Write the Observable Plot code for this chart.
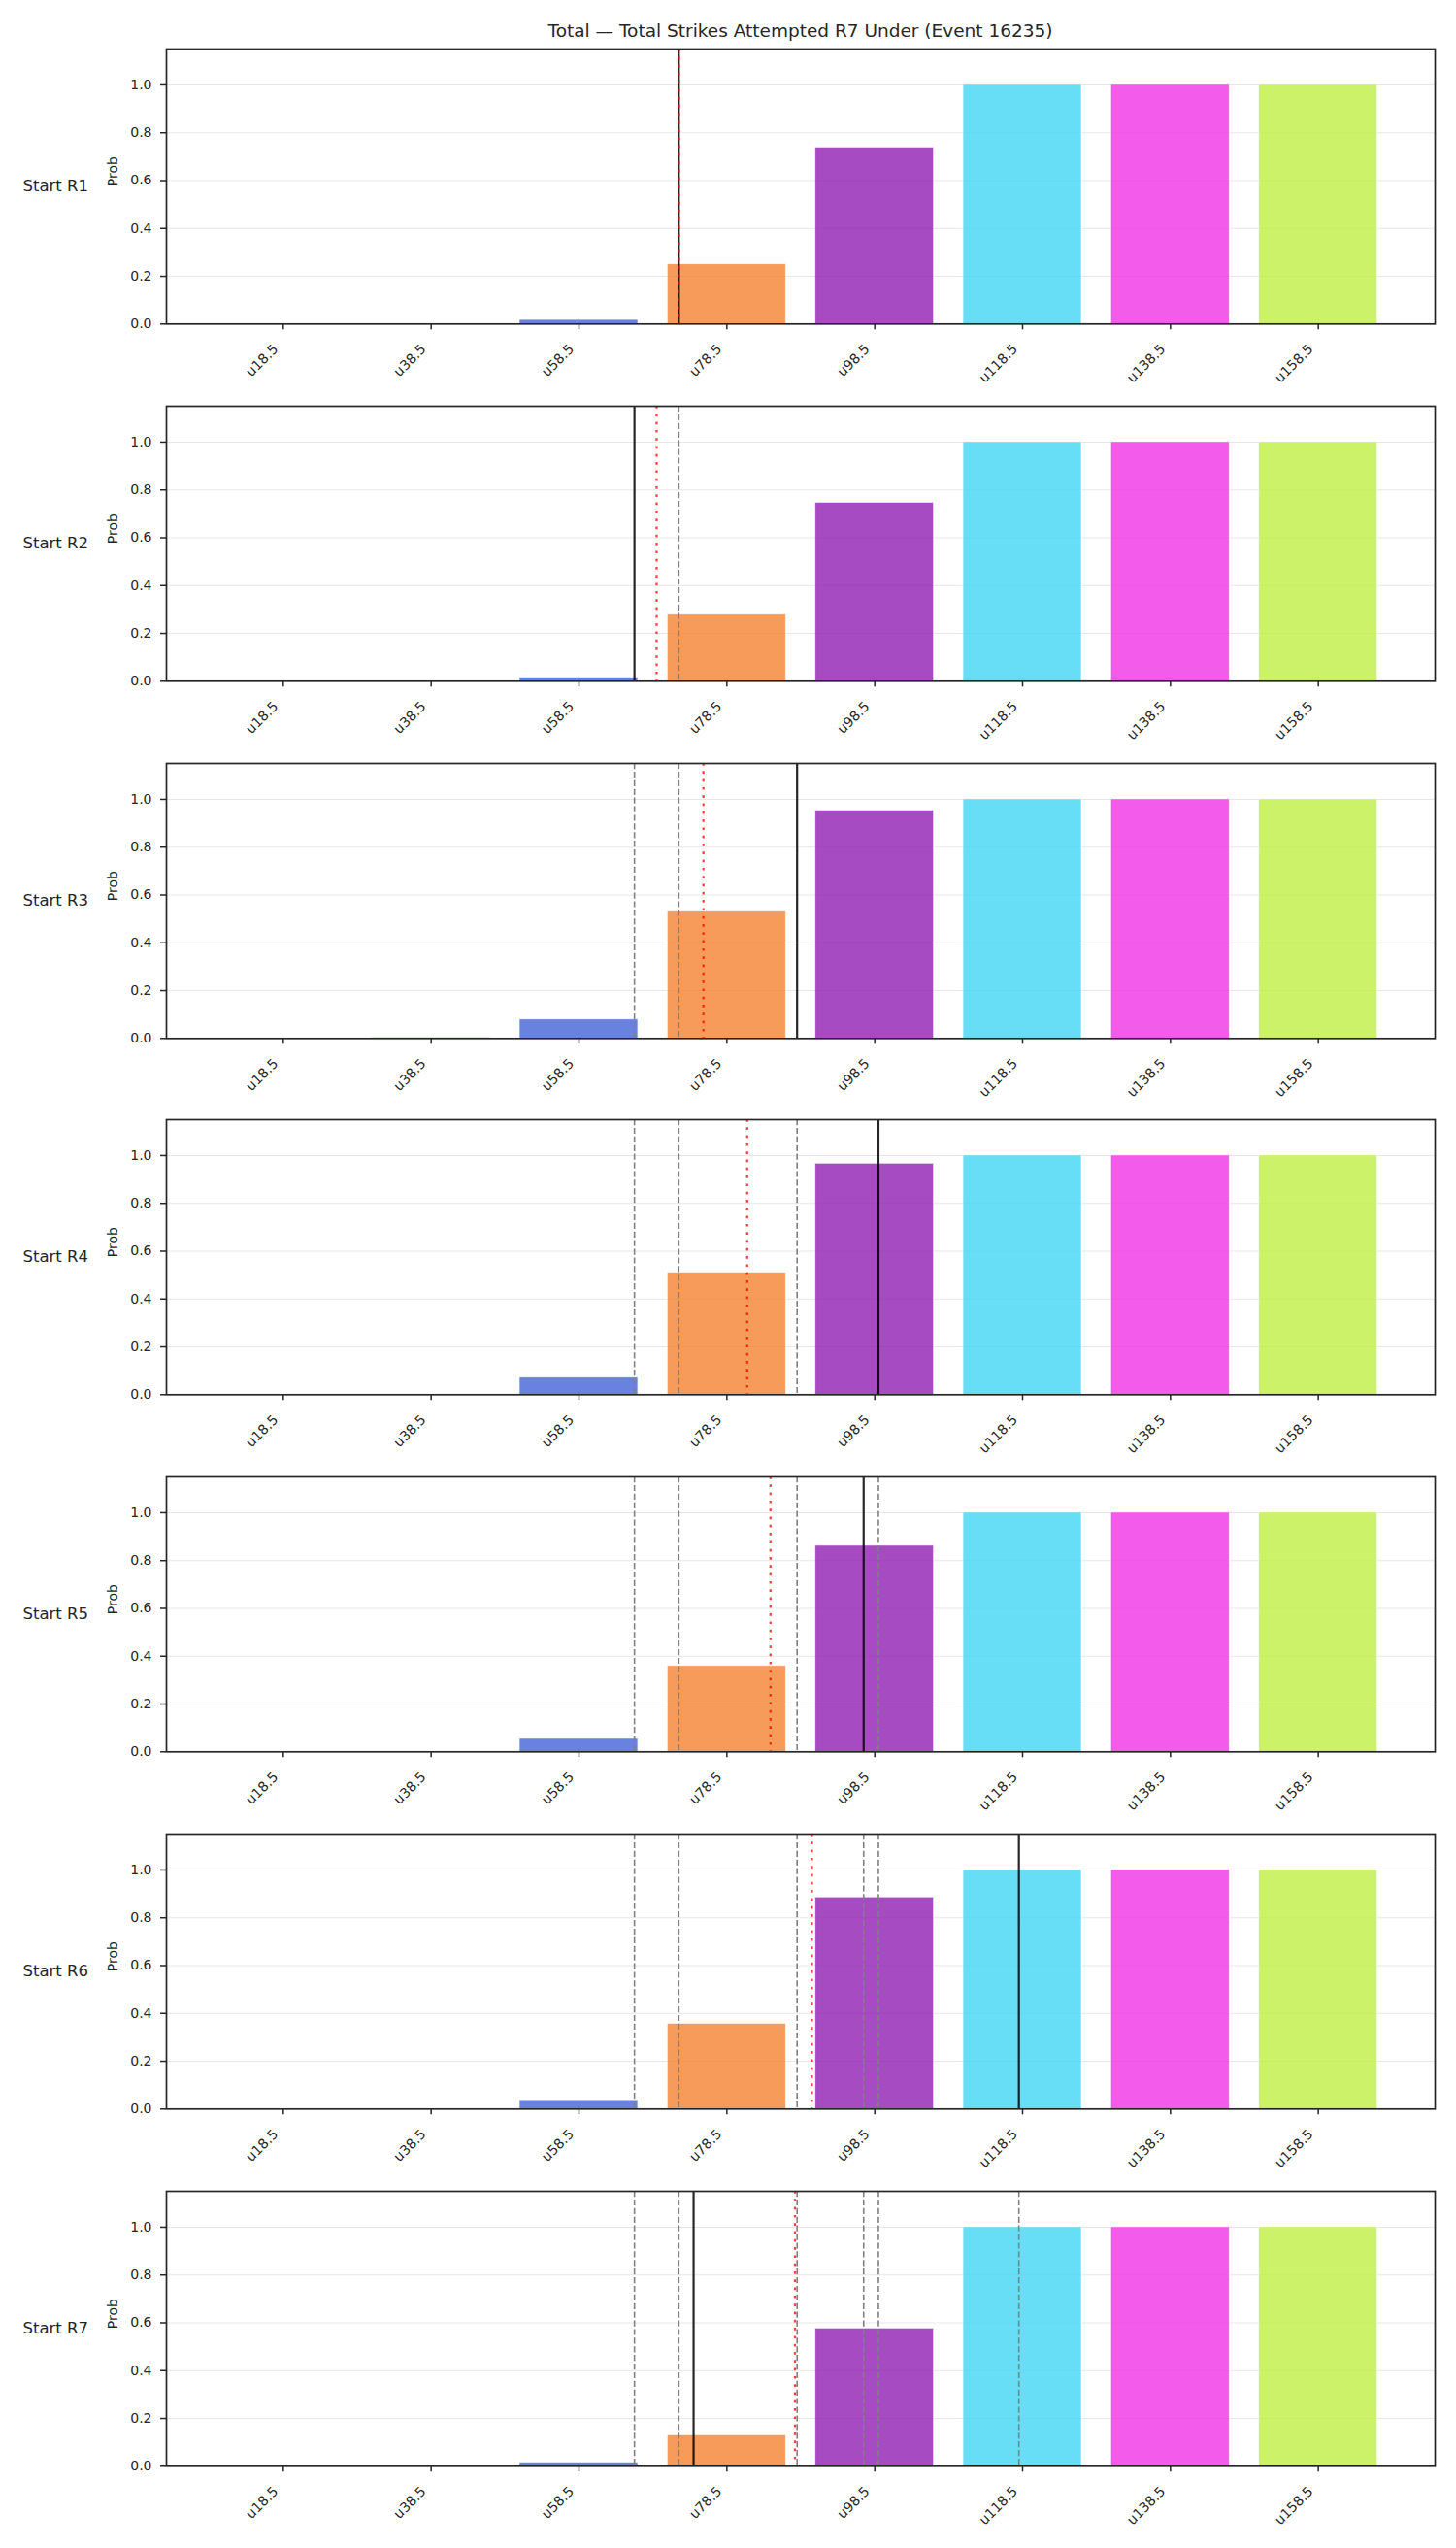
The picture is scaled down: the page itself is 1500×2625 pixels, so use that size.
<!DOCTYPE html>
<html>
<head>
<meta charset="utf-8">
<script src="https://cdn.jsdelivr.net/npm/d3@7"></script>
<script src="https://cdn.jsdelivr.net/npm/@observablehq/plot@0.6"></script>
<style>
  html, body { margin: 0; padding: 0; background: #ffffff; }
  #page { position: relative; width: 1500px; height: 2625px; background: #ffffff; font-family: "DejaVu Sans", sans-serif; }
  #title { position: absolute; left: 171px; width: 1307px; top: 23px; text-align: center;
           font-size: 18.5px; line-height: 18.5px; color: #262626; z-index: 2; }
  .panel { position: absolute; left: 0; }
  .panel svg { display: block; }
</style>
</head>
<body>
<div id="page">
  <div id="title">Total — Total Strikes Attempted R7 Under (Event 16235)</div>
</div>
<script>
// Strike lines of the "under" buckets and their tick labels
const strikeLines = [18.5, 38.5, 58.5, 78.5, 98.5, 118.5, 138.5, 158.5];
const bucketLabels = ["u18.5", "u38.5", "u58.5", "u78.5", "u98.5", "u118.5", "u138.5", "u158.5"];
const barColors = ["#e6194b", "#3cb44b", "#4363d8", "#f58231", "#911eb4", "#42d4f4", "#f032e6", "#bfef45"];

// Row labels, one panel per starting round
const roundNames = ["Start R1", "Start R2", "Start R3", "Start R4", "Start R5", "Start R6", "Start R7"];

// Probability of each bucket, per starting round
const probR1 = [0, 0, 0.017, 0.250, 0.738, 1, 1, 1];
const probR2 = [0, 0, 0.015, 0.278, 0.746, 1, 1, 1];
const probR3 = [0, 0.003, 0.079, 0.530, 0.953, 1, 1, 1];
const probR4 = [0, 0, 0.071, 0.510, 0.966, 1, 1, 1];
const probR5 = [0, 0, 0.054, 0.359, 0.862, 1, 1, 1];
const probR6 = [0, 0, 0.037, 0.356, 0.885, 1, 1, 1];
const probR7 = [0, 0, 0.015, 0.129, 0.576, 1, 1, 1];
const roundProbs = [probR1, probR2, probR3, probR4, probR5, probR6, probR7];

// Projected total at each round (solid) and the running average up to it (dotted)
const roundEstimate = [72, 66, 88, 99, 97, 118, 74];
const runningMean = [72, 69, 75.33, 81.25, 84.4, 90, 87.71];

const yTicks = [0, 0.2, 0.4, 0.6, 0.8, 1.0];

const ink = "#262626";
const barHalfWidth = 8;          // bars are 0.8 of the 20-strike step
const panelTop = 50, panelStep = 367.8;
const marginTop = 8, plotHeight = 283.3, svgHeight = 368;

function panel(k) {
  const bars = bucketLabels.map((label, i) => ({
    label, strike: strikeLines[i], p: roundProbs[k][i], color: barColors[i]
  }));
  const earlier = roundEstimate.slice(0, k);
  return Plot.plot({
    width: 1500,
    height: svgHeight,
    marginLeft: 171,
    marginRight: 22,
    marginTop,
    marginBottom: svgHeight - marginTop - plotHeight,
    style: {fontFamily: "DejaVu Sans", background: "#ffffff", color: ink, overflow: "visible"},
    x: {type: "linear", domain: [2.7, 174.3]},
    y: {domain: [0, 1.15]},
    color: {type: "identity"},
    marks: [
      Plot.gridY(yTicks.slice(1), {stroke: "#b0b0b0", strokeOpacity: 0.3, strokeWidth: 1.1}),
      Plot.rectY(bars, {
        x1: d => d.strike - barHalfWidth,
        x2: d => d.strike + barHalfWidth,
        y1: 0, y2: "p",
        fill: "color", fillOpacity: 0.8,
        stroke: "#ffffff", strokeWidth: 0.7, strokeOpacity: 0.7
      }),
      Plot.ruleX(earlier, {stroke: "gray", strokeWidth: 1.6, strokeDasharray: "6.2,2.7"}),
      Plot.ruleX([roundEstimate[k]], {stroke: "#000000", strokeOpacity: 0.85, strokeWidth: 2.2}),
      Plot.ruleX([runningMean[k]], {stroke: "red", strokeOpacity: 0.75, strokeWidth: 2.3, strokeDasharray: "2.7,5.6"}),
      Plot.axisY({ticks: yTicks, tickSize: 6, tickPadding: 9, tickFormat: d3.format(".1f"),
                  fontSize: 14, label: null, strokeWidth: 1.5}),
      Plot.axisX({ticks: strikeLines, tickSize: 6, tickFormat: () => "", label: null, strokeWidth: 1.5}),
      Plot.text(bars, {x: "strike", frameAnchor: "bottom", text: "label", rotate: -45,
                       textAnchor: "end", lineAnchor: "bottom", dx: -4.5, dy: 26.7, fontSize: 14, fill: ink}),
      Plot.text([roundNames[k]], {frameAnchor: "left", text: d => d, dx: -114.3,
                                  textAnchor: "middle", fontSize: 16.5, fill: ink}),
      Plot.text(["Prob"], {frameAnchor: "left", text: d => d, rotate: -90, dx: -55,
                           fontSize: 14, fill: ink}),
      Plot.frame({stroke: ink, strokeWidth: 1.7})
    ]
  });
}

const page = document.getElementById("page");
roundNames.forEach((name, k) => {
  const holder = document.createElement("div");
  holder.className = "panel";
  holder.style.top = (panelTop + panelStep * k - marginTop) + "px";
  holder.appendChild(panel(k));
  page.appendChild(holder);
});
</script>
</body>
</html>
